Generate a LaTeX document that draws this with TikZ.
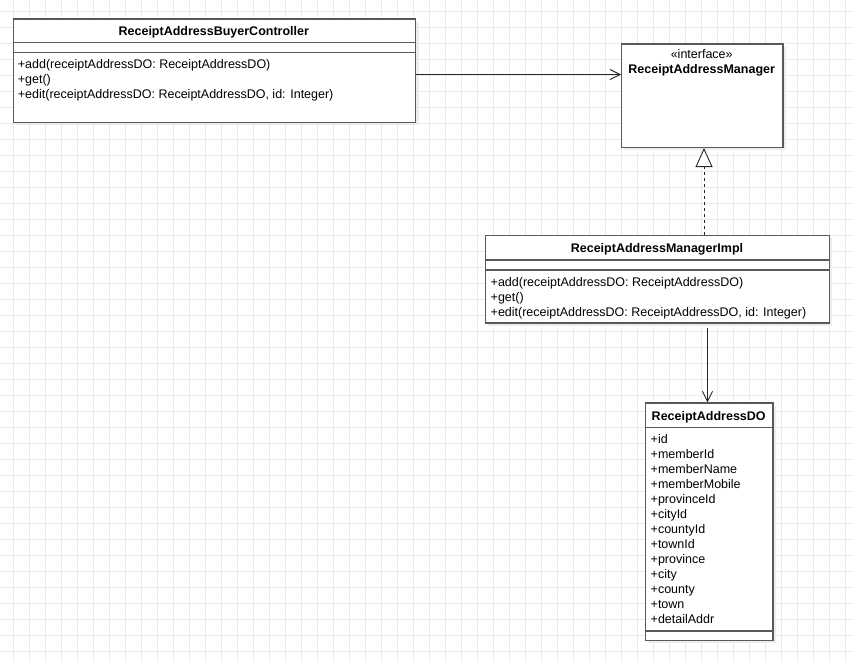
\documentclass[tikz,border=0pt]{standalone}
\usepackage{fontspec}
\setmainfont{Liberation Sans}
\usetikzlibrary{arrows.meta}
\begin{document}
\begin{tikzpicture}[x=1pt,y=-1pt,
  gridline/.style={draw=black!8, line width=0.9pt},
  box/.style={draw=black!65, line width=1.3pt, fill=white, inner sep=0pt, anchor=north west},
  shadowbox/.style={fill=black!7, draw=none, inner sep=0pt, anchor=north west},
  divider/.style={draw=black!65, line width=1.3pt},
  title/.style={font=\bfseries\fontsize{12.5}{15}\selectfont, inner sep=0pt, anchor=base},
  stereo/.style={font=\fontsize{12.5}{15}\selectfont, inner sep=0pt, anchor=base},
  item/.style={font=\fontsize{12.5}{15}\selectfont, inner sep=0pt, anchor=base west},
  assoc/.style={draw=black!85, line width=0.9pt, -{Straight Barb[length=10pt,width=10pt]}},
  realize/.style={draw=black!85, line width=0.9pt, dash pattern=on 3pt off 3pt, -{Triangle[open,length=19pt,width=17pt,fill=white]}},
]
% background and grid
\fill[white] (0,0) rectangle (853,662);
\useasboundingbox (0,0) rectangle (853,662);
\foreach \k in {0,...,52} \draw[gridline] ({13.3+16*\k},0) -- ({13.3+16*\k},662);
\foreach \k in {0,...,40} \draw[gridline] (0,{11.7+16*\k}) -- (853,{11.7+16*\k});

% shadows
\node[shadowbox, minimum width=402.3pt, minimum height=103.4pt] (ctrlsh) at (16,21.5) {};
\node[shadowbox, minimum width=161.3pt, minimum height=103.4pt] (ifacesh) at (624,46.5) {};
\node[shadowbox, minimum width=344pt, minimum height=87.3pt] (implsh) at (488,238) {};
\node[shadowbox, minimum width=127.3pt, minimum height=237.7pt] (dosh) at (648,405.5) {};

% ReceiptAddressBuyerController
\node[box, minimum width=402.3pt, minimum height=103.4pt] (ctrl) at (12.7,18.3) {};
\draw[divider] (12.7,42.7) -- (415,42.7);
\draw[divider] (12.7,52.5) -- (415,52.5);
\node[title] (ctrlname) at (213.8,35) {ReceiptAddressBuyerController};
\node[item] (ctrlm1) at (17.7,68) {+add(receiptAddressDO: ReceiptAddressDO)};
\node[item] (ctrlm2) at (17.7,83) {+get()};
\node[item] (ctrlm3) at (17.7,98) {+edit(receiptAddressDO: ReceiptAddressDO, id: Integer)};

% ReceiptAddressManager (interface)
\node[box, minimum width=161.3pt, minimum height=103.4pt] (iface) at (621,43.3) {};
\node[stereo] (ifacest) at (701.7,58.5) {«interface»};
\node[title] (ifacename) at (701.7,73.5) {ReceiptAddressManager};

% ReceiptAddressManagerImpl
\node[box, minimum width=344pt, minimum height=87.3pt] (impl) at (485,235) {};
\draw[divider] (485,260) -- (829,260);
\draw[divider] (485,270) -- (829,270);
\node[title] (implname) at (657,252.5) {ReceiptAddressManagerImpl};
\node[item] (implm1) at (490.5,286) {+add(receiptAddressDO: ReceiptAddressDO)};
\node[item] (implm2) at (490.5,301) {+get()};
\node[item] (implm3) at (490.5,316) {+edit(receiptAddressDO: ReceiptAddressDO, id: Integer)};

% ReceiptAddressDO
\node[box, minimum width=127.3pt, minimum height=237.7pt] (do) at (645,402.3) {};
\draw[divider] (645,427.7) -- (772.3,427.7);
\draw[divider] (645,631) -- (772.3,631);
\node[title] (doname) at (708.7,420.5) {ReceiptAddressDO};
\foreach \t [count=\i from 0] in {id,memberId,memberName,memberMobile,provinceId,cityId,countyId,townId,province,city,county,town,detailAddr}
  \node[item] (doa\i) at (650.5,{443+15*\i}) {+\t};

% connectors
\coordinate (a1) at (0,74.5);
\coordinate (r1) at (704,0);
\coordinate (d1) at (707.5,0);
\draw[assoc] (ctrl.east |- a1) -- (iface.west |- a1);
\draw[realize] (impl.north -| r1) -- (iface.south -| r1);
\draw[assoc, shorten <=4pt] (impl.south -| d1) -- (do.north -| d1);
\end{tikzpicture}
\end{document}
